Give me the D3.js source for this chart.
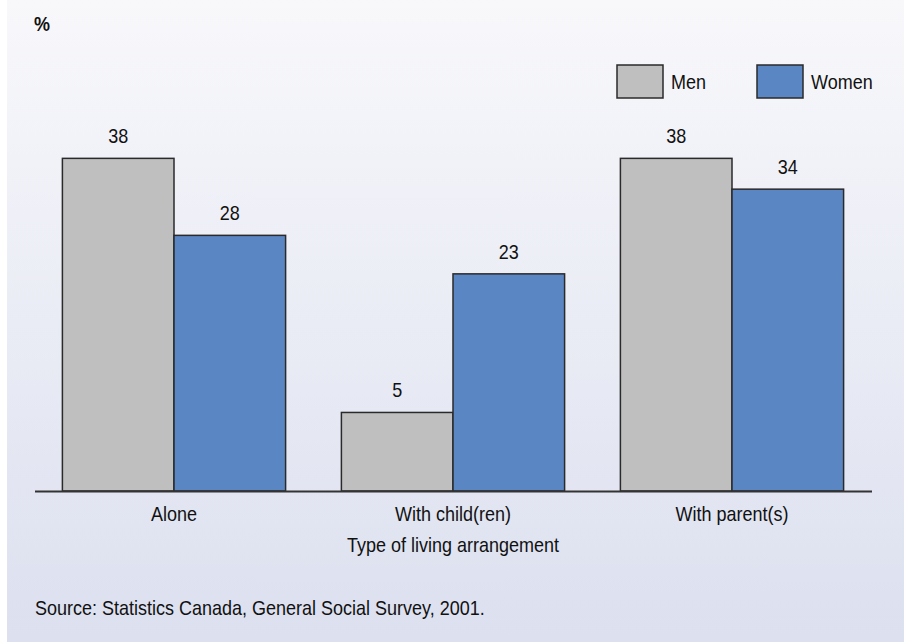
<!DOCTYPE html>
<html>
<head>
<meta charset="utf-8">
<script src="https://cdn.jsdelivr.net/npm/d3@7"></script>
<style>
  html, body { margin: 0; padding: 0; background: #ffffff; }
  svg { display: block; }
  text { font-family: "Liberation Sans", Arial, sans-serif; fill: #111; }
</style>
</head>
<body>
<svg id="chart" width="904" height="642"></svg>
<script>
// Living arrangement shares (%) by sex
const categories = ["Alone", "With child(ren)", "With parent(s)"];
const seriesNames = ["Men", "Women"];
const menValues = [38, 5, 38];
const womenValues = [28, 23, 34];
const unitLabel = "%";
const axisTitle = "Type of living arrangement";
const sourceNote = "Source: Statistics Canada, General Social Survey, 2001.";

const colors = { Men: "#bfbfbf", Women: "#5b86c4" };
const W = 904, H = 642;
const FS = 20;          // base font size
const SX = 0.9;         // horizontal squeeze for a condensed look
const svg = d3.select("#chart");

// Condensed text helper: squeezes glyphs horizontally around the anchor point
function label(parent, x, y, str, anchor = "start", size = FS, weight = "normal") {
  return parent.append("text")
    .attr("transform", `translate(${x},${y}) scale(${SX},1)`)
    .attr("text-anchor", anchor)
    .attr("font-size", size)
    .attr("font-weight", weight)
    .text(str);
}

// Panel background: soft vertical gradient
const defs = svg.append("defs");
const grad = defs.append("linearGradient").attr("id", "bg").attr("x1", 0).attr("y1", 0).attr("x2", 0).attr("y2", 1);
grad.append("stop").attr("offset", "0%").attr("stop-color", "#f8f8fb");
grad.append("stop").attr("offset", "100%").attr("stop-color", "#dce0ef");
svg.append("rect").attr("x", 7).attr("y", 0).attr("width", W - 7).attr("height", H).attr("fill", "url(#bg)");

const baseY = 491;
const axisLeft = 34.5, axisRight = 871.5;

const x0 = d3.scaleBand().domain(categories).range([axisLeft, axisRight]).paddingInner(0.2).paddingOuter(0.1);
const x1 = d3.scaleBand().domain(seriesNames).range([0, x0.bandwidth()]);

// Value scale; the baseline sits slightly below zero
const yFloor = -5.2, yTop = 40;
const y = d3.scaleLinear().domain([yFloor, yTop]).range([baseY, baseY - 7.7 * (yTop - yFloor)]);

const rows = categories.map((c, i) => ({
  category: c,
  values: [{ key: "Men", value: menValues[i] }, { key: "Women", value: womenValues[i] }]
}));

const groups = svg.append("g").selectAll("g").data(rows).join("g")
  .attr("transform", d => `translate(${x0(d.category)},0)`);

groups.selectAll("rect").data(d => d.values).join("rect")
  .attr("x", d => x1(d.key))
  .attr("y", d => y(d.value))
  .attr("width", x1.bandwidth())
  .attr("height", d => baseY - y(d.value))
  .attr("fill", d => colors[d.key])
  .attr("stroke", "#2a2a2a")
  .attr("stroke-width", 1.5);

groups.each(function (d) {
  const g = d3.select(this);
  d.values.forEach(v => {
    label(g, x1(v.key) + x1.bandwidth() / 2, y(v.value) - 15, v.value, "middle");
  });
});

// Category axis along the baseline
const xAxis = svg.append("g").attr("transform", `translate(0,${baseY})`)
  .call(d3.axisBottom(x0).tickSize(0).tickPadding(0));
xAxis.select(".domain").attr("stroke", "#333").attr("stroke-width", 2);
xAxis.selectAll(".tick text")
  .attr("font-size", FS)
  .attr("dy", 0)
  .attr("y", 0)
  .attr("fill", "#111")
  .attr("transform", `translate(0,30) scale(${SX},1)`)
  .style("font-family", "'Liberation Sans', Arial, sans-serif");

label(svg, (axisLeft + axisRight) / 2, 552, axisTitle, "middle");
label(svg, 34, 31, unitLabel, "start", 20, "bold");
label(svg, 35, 615, sourceNote, "start");

// Legend
const legendX = [617, 757];
const legend = svg.append("g").selectAll("g").data(seriesNames).join("g")
  .attr("transform", (d, i) => `translate(${legendX[i]},65)`);
legend.append("rect")
  .attr("width", 46).attr("height", 33)
  .attr("fill", d => colors[d])
  .attr("stroke", "#2a2a2a").attr("stroke-width", 1.5);
legend.each(function (d) {
  label(d3.select(this), 54, 24, d, "start");
});
</script>
</body>
</html>
